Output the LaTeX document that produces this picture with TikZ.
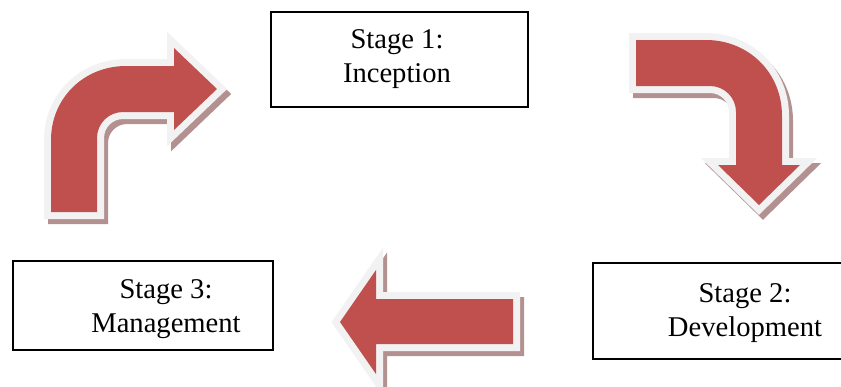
\documentclass[tikz,border=0pt]{standalone}
\usepackage{fontspec}
\setmainfont{Liberation Serif}
\usepackage{tikz}
\usepackage{xcolor}
\definecolor{arrowred}{RGB}{192,80,77}
\definecolor{arrowrim}{RGB}{242,242,242}
\definecolor{arrowshade}{RGB}{180,145,145}
\tikzset{
  stagebox/.style={draw,line width=1pt,inner sep=0pt},
  stagetext/.style={align=center,font=\fontsize{14.3}{17}\selectfont},
  bentarrow/.style={fill=arrowred,line join=miter,
    preaction={draw=arrowshade,fill=arrowshade,line width=7pt,line join=miter,transform canvas={shift={(2pt,-2.5pt)}}},
    preaction={draw=arrowrim,line width=7pt,line join=miter}}
}

\begin{document}
\begin{tikzpicture}[x=0.5pt,y=-0.5pt]
\useasboundingbox (0,0) rectangle (841,386);
\node[stagebox,minimum width=128.5pt,minimum height=47.5pt] (inception) at (399.5,59.5) {};
\node[stagebox,minimum width=125pt,minimum height=48pt] (development) at (718,311) {};
\node[stagebox,minimum width=130pt,minimum height=44.5pt] (management) at (143,305.5) {};
\node[stagetext] (inceptiontext) at (397,59) {Stage 1:\\Inception};
\node[stagetext] (developmenttext) at (745,313.5) {Stage 2:\\Development};
\node[stagetext] (managementtext) at (166,309) {Stage 3:\\Management};
\path[bentarrow] (51,212) -- (51,140) .. controls (51,98) and (84,66) .. (126,66) -- (174,66) -- (174,48) -- (217,89) -- (174,130) -- (174,112) -- (123,112) .. controls (108.6,112) and (97,123.6) .. (97,138) -- (97,212) -- cycle;
\path[bentarrow] (636,40) -- (706,40) .. controls (748,40) and (782,72) .. (782,116) -- (782,165) -- (800,165) -- (759,205) -- (718,165) -- (736,165) -- (736,112) .. controls (736,97.6) and (724.4,86) .. (710,86) -- (636,86) -- cycle;
\path[bentarrow] (513,299) -- (376,299) -- (376,270) -- (340,322) -- (376,374) -- (376,344) -- (513,344) -- cycle;

\end{tikzpicture}
\end{document}
